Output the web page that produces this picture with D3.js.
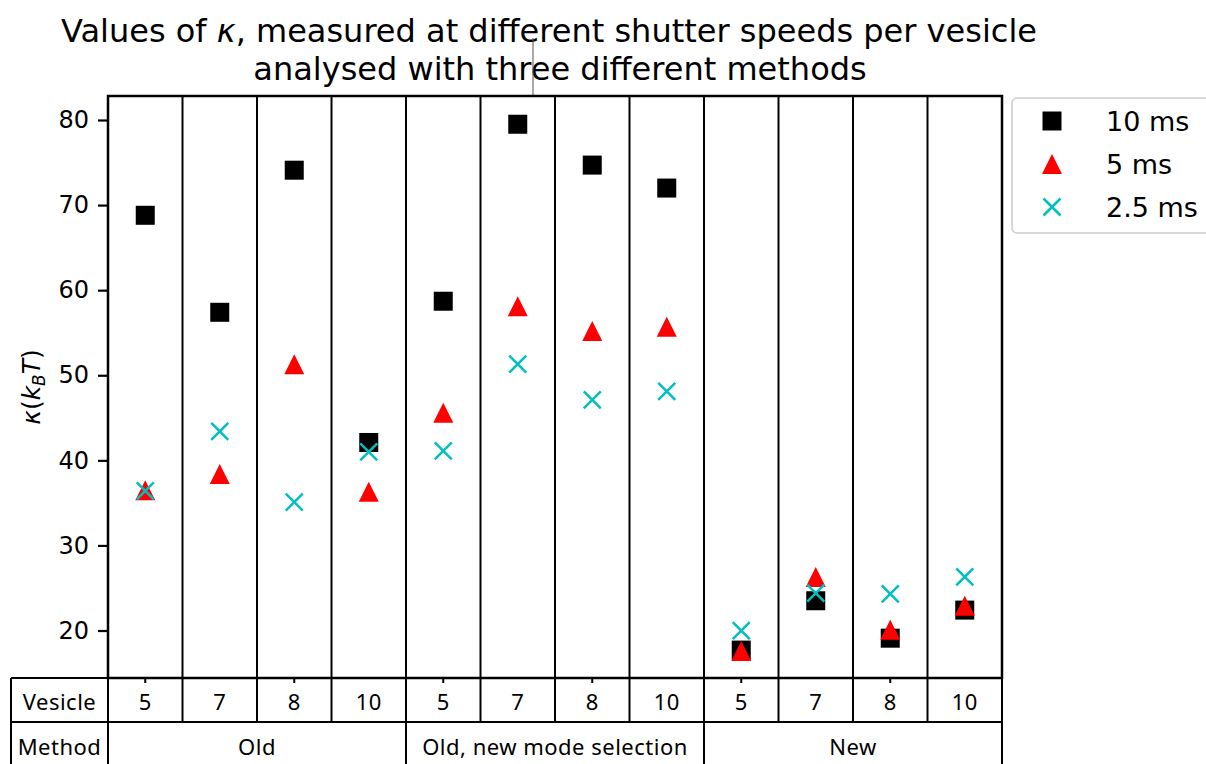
<!DOCTYPE html>
<html>
<head>
<meta charset="utf-8">
<script src="https://cdn.jsdelivr.net/npm/d3@7/dist/d3.min.js"></script>
<style>
  html, body { margin: 0; padding: 0; background: #fff; }
  svg { display: block; }
</style>
</head>
<body>
<svg id="chart" width="1206" height="764"></svg>
<script>
// Bending rigidity per vesicle, three shutter speeds, three analysis methods
const vesicles = ["5", "7", "8", "10", "5", "7", "8", "10", "5", "7", "8", "10"];
const methods = ["Old", "Old, new mode selection", "New"];
const methodSpan = [4, 4, 4];
const kappa10ms = [68.8, 57.4, 74.1, 42.1, 58.7, 79.5, 74.7, 72.0, 17.7, 23.5, 19.1, 22.4];
const kappa5ms = [36.5, 38.4, 51.3, 36.3, 45.6, 58.1, 55.2, 55.7, 17.6, 26.3, 20.1, 22.9];
const kappa2p5ms = [36.4, 43.4, 35.1, 41.0, 41.1, 51.3, 47.1, 48.1, 20.0, 24.4, 24.3, 26.3];
const yTicks = [20, 30, 40, 50, 60, 70, 80];
const seriesNames = ["10 ms", "5 ms", "2.5 ms"];

const svg = d3.select("#chart");
const plot = { left: 108, right: 1002, top: 96, bottom: 678 };
const tableLeft = 11, row1Bottom = 722, row2Bottom = 766;

const x = d3.scaleBand().domain(d3.range(vesicles.length)).range([plot.left, plot.right]).padding(0);
const y = d3.scaleLinear().domain([14.42, 82.82]).range([plot.bottom, plot.top]);
const cx = i => x(i) + x.bandwidth() / 2;

const colors = { sq: "#000000", tri: "#ff0000", cross: "#00bfbf" };
const mathFont = "'DejaVu Sans', sans-serif";
const tableFont = "'Noto Sans', sans-serif";

// Title
const title = svg.append("text")
  .attr("font-family", mathFont).attr("font-size", 32).attr("fill", "#000")
  .attr("text-anchor", "middle");
title.append("tspan").attr("x", 549).attr("y", 42)
  .text("Values of ").append("tspan").attr("font-style", "italic").text("κ");
title.append("tspan").text(", measured at different shutter speeds per vesicle");
title.append("tspan").attr("x", 560).attr("y", 80).text("analysed with three different methods");

// Thin separator stroke above the plot
svg.append("line").attr("x1", 533).attr("x2", 533).attr("y1", 38).attr("y2", plot.top)
  .attr("stroke", "#555").attr("stroke-width", 1);

// Column separators
svg.append("g").selectAll("line").data(d3.range(1, vesicles.length)).join("line")
  .attr("x1", d => x(d)).attr("x2", d => x(d))
  .attr("y1", plot.top).attr("y2", plot.bottom)
  .attr("stroke", "#000").attr("stroke-width", 2);

// Y axis
const yAxis = d3.axisLeft(y).tickValues(yTicks).tickSize(10).tickPadding(9);
const gy = svg.append("g").attr("transform", `translate(${plot.left},0)`).call(yAxis);
gy.select(".domain").remove();
gy.selectAll(".tick line").attr("stroke", "#000").attr("stroke-width", 2.2);
gy.selectAll(".tick text").attr("font-family", mathFont).attr("font-size", 24).attr("fill", "#000");

// Y label
const yl = svg.append("text")
  .attr("transform", "translate(40,387) rotate(-90)")
  .attr("text-anchor", "middle")
  .attr("font-family", mathFont).attr("font-size", 25).attr("fill", "#000");
yl.append("tspan").attr("font-style", "italic").text("κ");
yl.append("tspan").text("(");
yl.append("tspan").attr("font-style", "italic").text("k");
yl.append("tspan").attr("font-style", "italic").attr("font-size", 17).attr("dy", 5).text("B");
yl.append("tspan").attr("font-style", "italic").attr("dy", -5).text("T");
yl.append("tspan").text(")");

// Marker shapes
const half = 10;
const trianglePath = `M0,${-half}L${-half},${half}L${half},${half}Z`;
const cross = 8.5;

// 10 ms squares
svg.append("g").selectAll("rect").data(kappa10ms).join("rect")
  .attr("x", (d, i) => cx(i) - 9.5).attr("y", d => y(d) - 9.5)
  .attr("width", 19).attr("height", 19).attr("fill", colors.sq);

// 5 ms triangles
svg.append("g").selectAll("path").data(kappa5ms).join("path")
  .attr("transform", (d, i) => `translate(${cx(i)},${y(d)})`)
  .attr("d", trianglePath).attr("fill", colors.tri);

// 2.5 ms crosses
svg.append("g").selectAll("path").data(kappa2p5ms).join("path")
  .attr("transform", (d, i) => `translate(${cx(i)},${y(d)})`)
  .attr("d", `M${-cross},${-cross}L${cross},${cross}M${-cross},${cross}L${cross},${-cross}`)
  .attr("stroke", colors.cross).attr("stroke-width", 2.5).attr("fill", "none");

// Plot frame
svg.append("rect").attr("x", plot.left).attr("y", plot.top)
  .attr("width", plot.right - plot.left).attr("height", plot.bottom - plot.top)
  .attr("fill", "none").attr("stroke", "#000").attr("stroke-width", 2.5);

// Small x ticks peeking below the frame
svg.append("g").selectAll("line").data(d3.range(0, vesicles.length, 2)).join("line")
  .attr("x1", d => cx(d)).attr("x2", d => cx(d))
  .attr("y1", plot.bottom).attr("y2", plot.bottom + 5)
  .attr("stroke", "#000").attr("stroke-width", 2);

// Table below the plot
const tbl = svg.append("g").attr("stroke", "#000").attr("stroke-width", 2);
tbl.append("line").attr("x1", tableLeft).attr("x2", plot.right).attr("y1", plot.bottom).attr("y2", plot.bottom);
tbl.append("line").attr("x1", tableLeft).attr("x2", plot.right).attr("y1", row1Bottom).attr("y2", row1Bottom);
tbl.append("line").attr("x1", tableLeft).attr("x2", plot.right).attr("y1", row2Bottom).attr("y2", row2Bottom);
tbl.append("line").attr("x1", tableLeft).attr("x2", tableLeft).attr("y1", plot.bottom).attr("y2", row2Bottom);
tbl.append("line").attr("x1", plot.left).attr("x2", plot.left).attr("y1", plot.bottom).attr("y2", row2Bottom);
tbl.append("line").attr("x1", plot.right).attr("x2", plot.right).attr("y1", plot.bottom).attr("y2", row2Bottom);
tbl.selectAll(".vsep").data(d3.range(1, vesicles.length)).join("line").attr("class", "vsep")
  .attr("x1", d => x(d)).attr("x2", d => x(d))
  .attr("y1", plot.bottom).attr("y2", d => (d % 4 === 0 ? row2Bottom : row1Bottom));

const tText = svg.append("g").attr("font-family", tableFont).attr("font-size", 22)
  .attr("letter-spacing", 0.5)
  .attr("fill", "#000").attr("text-anchor", "middle").attr("dominant-baseline", "central");
tText.append("text").attr("x", (tableLeft + plot.left) / 2).attr("y", (plot.bottom + row1Bottom) / 2 + 1).text("Vesicle");
tText.append("text").attr("x", (tableLeft + plot.left) / 2).attr("y", 746).text("Method");
tText.selectAll(".ves").data(vesicles).join("text").attr("class", "ves")
  .attr("x", (d, i) => cx(i)).attr("y", (plot.bottom + row1Bottom) / 2 + 1).text(d => d);
let start = 0;
methods.forEach((m, k) => {
  const a = x(start), b = x(start + methodSpan[k] - 1) + x.bandwidth();
  tText.append("text").attr("x", (a + b) / 2).attr("y", 746).text(m);
  start += methodSpan[k];
});

// Legend
const lg = svg.append("g");
lg.append("rect").attr("x", 1012).attr("y", 98).attr("width", 210).attr("height", 135)
  .attr("rx", 5).attr("fill", "#fff").attr("stroke", "#cccccc").attr("stroke-width", 1.5);
const lgY = [121, 164, 207];
seriesNames.forEach((name, i) => {
  const my = lgY[i];
  if (i === 0) {
    lg.append("rect").attr("x", 1052 - 9.5).attr("y", my - 9.5).attr("width", 19).attr("height", 19).attr("fill", colors.sq);
  } else if (i === 1) {
    lg.append("path").attr("transform", `translate(1052,${my})`).attr("d", trianglePath).attr("fill", colors.tri);
  } else {
    lg.append("path").attr("transform", `translate(1052,${my})`)
      .attr("d", `M${-cross},${-cross}L${cross},${cross}M${-cross},${cross}L${cross},${-cross}`)
      .attr("stroke", colors.cross).attr("stroke-width", 2.5);
  }
  lg.append("text").attr("x", 1106).attr("y", my).attr("dominant-baseline", "central")
    .attr("font-family", mathFont).attr("font-size", 27).attr("fill", "#000").text(name);
});
</script>
</body>
</html>
